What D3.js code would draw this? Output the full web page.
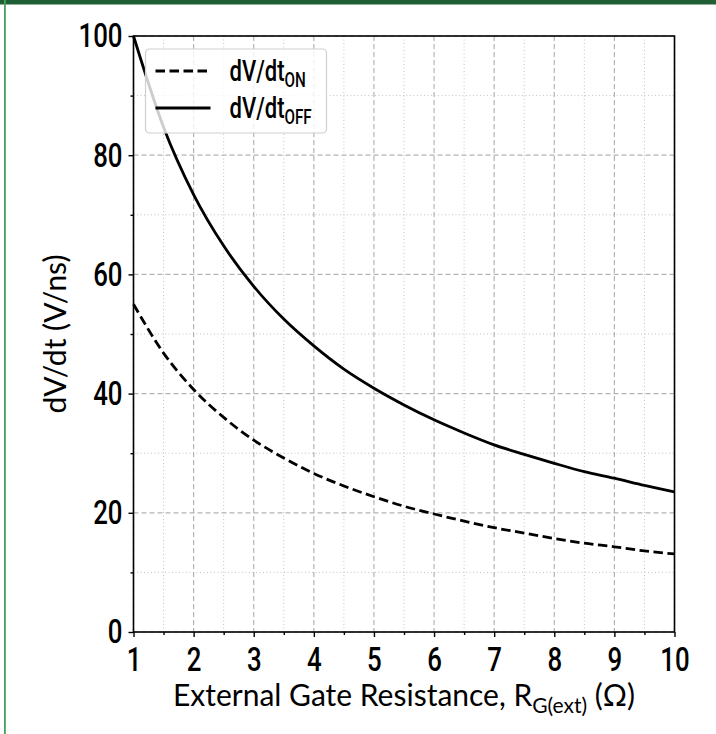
<!DOCTYPE html>
<html>
<head>
<meta charset="utf-8">
<script src="https://cdn.jsdelivr.net/npm/d3@7"></script>
<style>
  body { margin: 0; background: #fff; }
  svg { display: block; }
</style>
</head>
<body>
<div id="chart"></div>
<script>
// Resistencia de puerta externa (ohm) y dV/dt
const R_G = [1, 1.5, 2, 2.5, 3, 3.5, 4, 4.5, 5, 5.5, 6, 6.5, 7, 7.5, 8, 8.5, 9, 9.5, 10];
const DVDT_ON = [55.0, 46.8, 40.7, 36.0, 32.2, 29.2, 26.6, 24.5, 22.7, 21.1, 19.8, 18.6, 17.5, 16.6, 15.7, 14.9, 14.3, 13.6, 13.1];
const DVDT_OFF = [100, 84.7, 73.4, 64.8, 58.0, 52.5, 48.0, 44.1, 40.9, 38.1, 35.6, 33.4, 31.4, 29.8, 28.3, 26.9, 25.8, 24.6, 23.5];
const X_TICKS = [1, 2, 3, 4, 5, 6, 7, 8, 9, 10];
const X_MINOR = [1.5, 2.5, 3.5, 4.5, 5.5, 6.5, 7.5, 8.5, 9.5];
const Y_TICKS = [0, 20, 40, 60, 80, 100];
const Y_MINOR = [10, 30, 50, 70, 90];

const width = 716, height = 734;
const margin = { top: 36, right: 41.5, bottom: 102, left: 133.5 };
const W = width - margin.left - margin.right;
const H = height - margin.top - margin.bottom;

// fuente estrecha: Roboto comprimida en horizontal (no hay Roboto Condensed)
const NARROW = 'Roboto, "DejaVu Sans", sans-serif';
const SQUEEZE = 0.76;
const LABEL_FONT = 'Lato, "Open Sans", sans-serif';

const x = d3.scaleLinear().domain([1, 10]).range([0, W]);
const y = d3.scaleLinear().domain([0, 100]).range([H, 0]);

const svg = d3.select('#chart').append('svg')
  .attr('width', width).attr('height', height);

// marco verde de la pagina
svg.append('rect').attr('x', 0).attr('y', 0).attr('width', width).attr('height', 4.5).attr('fill', '#1f5f33');
svg.append('rect').attr('x', 4).attr('y', 0).attr('width', 1.8).attr('height', height).attr('fill', '#45a061');

const g = svg.append('g').attr('transform', `translate(${margin.left},${margin.top})`);

// rejilla: mayor discontinua, menor punteada
const grid = g.append('g');
X_MINOR.forEach(v => grid.append('line')
  .attr('x1', x(v)).attr('x2', x(v)).attr('y1', 0).attr('y2', H)
  .attr('stroke', '#c4c4c4').attr('stroke-width', 1).attr('stroke-dasharray', '1,2.5'));
Y_MINOR.forEach(v => grid.append('line')
  .attr('x1', 0).attr('x2', W).attr('y1', y(v)).attr('y2', y(v))
  .attr('stroke', '#c4c4c4').attr('stroke-width', 1).attr('stroke-dasharray', '1,2.5'));
X_TICKS.forEach(v => grid.append('line')
  .attr('x1', x(v)).attr('x2', x(v)).attr('y1', 0).attr('y2', H)
  .attr('stroke', '#b4b4b4').attr('stroke-width', 1.2).attr('stroke-dasharray', '5,3'));
Y_TICKS.forEach(v => grid.append('line')
  .attr('x1', 0).attr('x2', W).attr('y1', y(v)).attr('y2', y(v))
  .attr('stroke', '#b4b4b4').attr('stroke-width', 1.2).attr('stroke-dasharray', '5,3'));

// curvas
const line = (vals) => d3.line()
  .x((d, i) => x(R_G[i]))
  .y(d => y(d))
  .curve(d3.curveMonotoneX)(vals);

g.append('path').attr('d', line(DVDT_OFF))
  .attr('fill', 'none').attr('stroke', '#000').attr('stroke-width', 2.8);
g.append('path').attr('d', line(DVDT_ON))
  .attr('fill', 'none').attr('stroke', '#000').attr('stroke-width', 2.8)
  .attr('stroke-dasharray', '9.5,4.5');

// ejes con ticks mayores y menores
const xAxis = g.append('g').attr('transform', `translate(0,${H})`)
  .call(d3.axisBottom(x).tickValues(X_TICKS).tickSize(5).tickPadding(10).tickFormat(d3.format('d')));
const xMinor = g.append('g').attr('transform', `translate(0,${H})`)
  .call(d3.axisBottom(x).tickValues(X_MINOR).tickSize(3).tickFormat(''));
const yAxis = g.append('g')
  .call(d3.axisLeft(y).tickValues(Y_TICKS).tickSize(5).tickPadding(10).tickFormat(d3.format('d')));
const yMinor = g.append('g')
  .call(d3.axisLeft(y).tickValues(Y_MINOR).tickSize(3).tickFormat(''));

[xAxis, xMinor, yAxis, yMinor].forEach(a => {
  a.select('.domain').remove();
  a.selectAll('line').attr('stroke', '#000').attr('stroke-width', 1.4);
  a.selectAll('text').attr('fill', '#000')
    .attr('transform', `scale(${SQUEEZE},1)`)
    .style('font-family', NARROW).style('font-size', '34px').style('font-weight', 500);
});
// el escalado tambien mueve la x del texto: la corregimos
yAxis.selectAll('text').attr('x', -11 / SQUEEZE);

// marco del area de trazado
g.append('rect').attr('x', 0).attr('y', 0).attr('width', W).attr('height', H)
  .attr('fill', 'none').attr('stroke', '#000').attr('stroke-width', 1.6);

// leyenda
const leg = g.append('g').attr('transform', 'translate(12,13)');
leg.append('rect').attr('x', 0).attr('y', 0).attr('width', 181).attr('height', 84).attr('rx', 4)
  .attr('fill', '#fff').attr('fill-opacity', 0.8).attr('stroke', '#d0d0d0').attr('stroke-width', 1.2);
const LEGEND = [
  { sub: 'ON', dash: '9.5,4.5', yy: 22 },
  { sub: 'OFF', dash: null, yy: 59 },
];
LEGEND.forEach(d => {
  leg.append('line').attr('x1', 10).attr('x2', 65).attr('y1', d.yy).attr('y2', d.yy)
    .attr('stroke', '#000').attr('stroke-width', 2.8)
    .attr('stroke-dasharray', d.dash);
  const t = leg.append('text').attr('x', 84 / SQUEEZE).attr('y', d.yy + 10)
    .attr('transform', `scale(${SQUEEZE},1)`)
    .style('font-family', NARROW).style('font-size', '29px').style('font-weight', 500).attr('fill', '#000');
  t.append('tspan').text('dV/dt');
  t.append('tspan').attr('dy', 6).style('font-size', '20px').text(d.sub);
});

// titulos de ejes
const xl = svg.append('text')
  .attr('x', margin.left + W / 2).attr('y', 706).attr('text-anchor', 'middle')
  .style('font-family', LABEL_FONT).style('font-size', '30px').attr('fill', '#000');
xl.append('tspan').text('External Gate Resistance, R');
xl.append('tspan').attr('dy', 7).style('font-size', '21px').text('G(ext)');
xl.append('tspan').attr('dy', -7).text(' (Ω)');

svg.append('text')
  .attr('transform', `translate(66,${margin.top + H / 2}) rotate(-90)`)
  .attr('text-anchor', 'middle')
  .style('font-family', LABEL_FONT).style('font-size', '30px').attr('fill', '#000')
  .text('dV/dt (V/ns)');
</script>
</body>
</html>
